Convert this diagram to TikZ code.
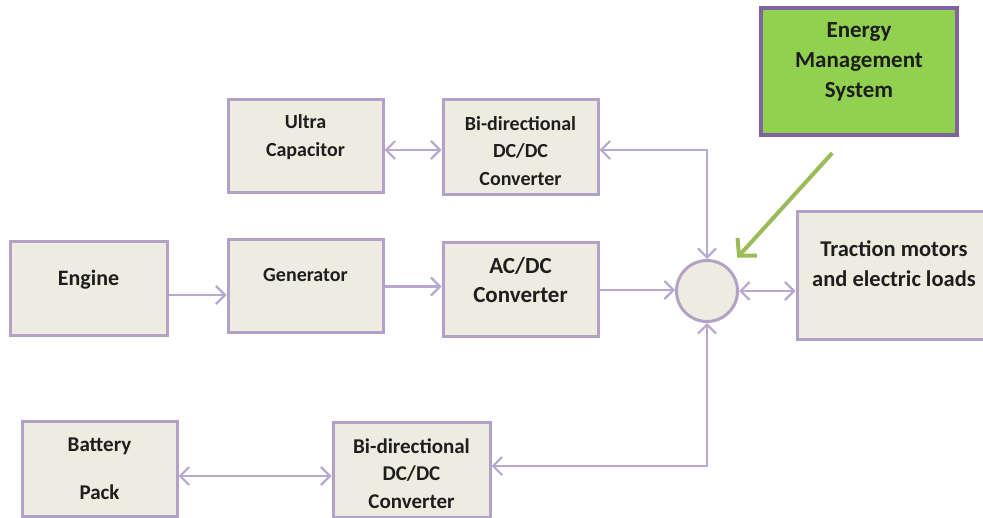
\documentclass[tikz,border=0pt]{standalone}
\usepackage{fontspec}
\setmainfont{Carlito}
\usetikzlibrary{arrows.meta}

% --- 颜色 ---
\definecolor{boxfill}{HTML}{EEECE1}
\definecolor{boxedge}{HTML}{B3A2C7}
\definecolor{wireclr}{HTML}{B8A9D2}
\definecolor{emsfill}{HTML}{92D050}
\definecolor{emsedge}{HTML}{8064A2}
\definecolor{emsline}{HTML}{9BBB59}
\definecolor{ink}{HTML}{1E1E1E}

\begin{document}
\begin{tikzpicture}[x=1pt, y=-1pt,
    block/.style={draw=boxedge, fill=boxfill, line width=3pt, align=center,
        text=ink, inner sep=0pt},
    fs/.style 2 args={font=\fontsize{#1}{#2}\selectfont\bfseries},
    wire/.style={draw=wireclr, line width=2.2pt},
    oneway/.style={wire, -{Straight Barb[length=9pt, width=18pt]}},
    twoway/.style={wire, {Straight Barb[length=9pt, width=18pt]}-{Straight Barb[length=9pt, width=18pt]}},
    emsarrow/.style={draw=emsline, line width=4pt, -{Straight Barb[length=12pt, width=26pt]}}]

    % --- 画布范围 (像素坐标, y 向下) ---
    \clip (0,0) rectangle (983,518);

    % --- 上排: 超级电容 + 双向 DC/DC ---
    \node[block, fs={20}{28}, minimum width=155pt, minimum height=93pt] (ucap) at (305.5,146.5) {Ultra\\Capacitor\\[-5pt]\mbox{}};
    \node[block, fs={20}{27.5}, minimum width=155pt, minimum height=95pt] (bdtop) at (520.5,147.5) {\mbox{}\\[-6.5pt]Bi-directional\\DC/DC\\Converter};

    % --- 中排: 发动机 -> 发电机 -> AC/DC ---
    \node[block, fs={22}{29}, minimum width=157pt, minimum height=94pt] (engine) at (88.5,289) {Engine\\[-7pt]\mbox{}};
    \node[block, fs={20}{28}, minimum width=155pt, minimum height=93pt] (gen) at (305.5,286.5) {Generator\\[-5.5pt]\mbox{}};
    \node[block, fs={23}{29}, minimum width=155pt, minimum height=94pt] (acdc) at (520.5,290) {AC/DC\\Converter\\[-8pt]\mbox{}};

    % 汇流点
    \node[circle, draw=boxedge, fill=boxfill, line width=3pt, minimum size=61pt, inner sep=0pt] (sumc) at (707,291) {};

    % 负载 (右边超出画布)
    \node[block, fs={22.5}{30}, minimum width=194pt, minimum height=128pt] (trac) at (894,276) {Traction motors\\and electric loads\\[-6pt]\mbox{}};

    % 能量管理系统
    \node[block, fs={23}{30}, fill=emsfill, draw=emsedge, line width=3.5pt, minimum width=196pt, minimum height=127pt] (ems) at (859,71.5) {Energy\\Management\\System\\[-7pt]\mbox{}};

    % --- 下排: 电池 + 双向 DC/DC ---
    \node[block, fs={21}{28}, minimum width=155pt, minimum height=94pt] (batt) at (99.5,469) {Battery\\[20pt]Pack};
    \node[block, fs={21}{27.5}, minimum width=157pt, minimum height=94pt] (bdbot) at (411.5,470) {\mbox{}\\[-5.5pt]Bi-directional\\DC/DC\\Converter};

    % --- 连线 ---
    \draw[twoway] ([yshift=-3.5pt]ucap.east) -- ([yshift=-3.5pt]ucap.east -| bdtop.west);
    \draw[twoway] ([yshift=-2.5pt]bdtop.east) -| (sumc.north);
    \draw[oneway] ([yshift=-6pt]engine.east) -- ([yshift=-6pt]engine.east -| gen.west);
    \draw[oneway] (gen.east) -- (gen.east -| acdc.west);
    \draw[oneway] (acdc.east) -- (acdc.east -| sumc.west);
    \draw[twoway] (sumc.east) -- (sumc.east -| trac.west);
    \draw[twoway] ([yshift=-7pt]batt.east) -- ([yshift=-7pt]batt.east -| bdbot.west);
    \draw[twoway] ([yshift=4pt]bdbot.east) -| (sumc.south);

    % EMS 指向汇流点
    \draw[emsarrow, shorten <=22pt, shorten >=45pt] ([xshift=-12pt]ems.south) -- (sumc.center);

\end{tikzpicture}
\end{document}
